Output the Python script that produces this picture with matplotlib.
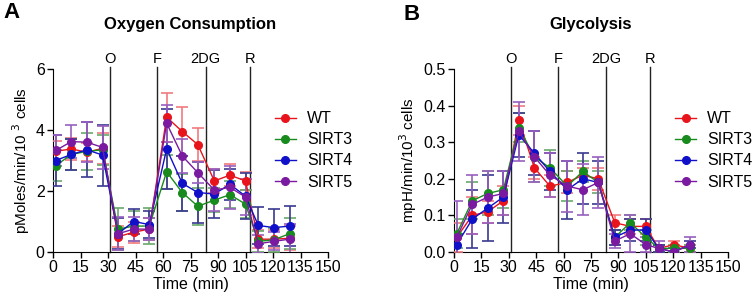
import numpy as np
import matplotlib
matplotlib.use("Agg")
from matplotlib import pyplot as plt
from matplotlib.lines import Line2D

plt.rcParams["font.family"] = ["Liberation Sans", "DejaVu Sans"]

time = [1.5, 10, 18.5, 27, 35.5, 44, 52.5, 62, 70.5, 79, 88, 96.5, 105, 112, 120.5, 129]
groups = ["WT", "SIRT3", "SIRT4", "SIRT5"]
colors = ["#e8141c", "#198a1e", "#1010c8", "#7a1aa0"]
err_colors = ["#f07a7e", "#6aa86a", "#3a3a90", "#9a60c0"]

injections = [31.2, 56.8, 83.2, 107.3]
injection_labels = ["O", "F", "2DG", "R"]

# oxygen consumption (pMoles/min/10^3 cells)
ocr_wt = [3.3, 3.38, 3.27, 3.4, 0.5, 0.65, 0.75, 4.42, 3.95, 3.52, 2.33, 2.52, 2.33, 0.42, 0.42, 0.45]
ocr_sirt3 = [2.83, 3.2, 3.3, 3.35, 0.75, 0.85, 0.85, 2.63, 1.95, 1.5, 1.7, 1.88, 1.57, 0.35, 0.4, 0.6]
ocr_sirt4 = [3.0, 3.2, 3.35, 3.18, 0.6, 1.0, 0.9, 3.38, 2.25, 1.95, 1.9, 2.22, 1.83, 0.87, 0.8, 0.85]
ocr_sirt5 = [3.33, 3.62, 3.6, 3.43, 0.6, 0.75, 0.75, 4.22, 3.15, 2.6, 2.03, 2.12, 1.8, 0.27, 0.35, 0.42]
ocr_err_wt = [0.35, 0.35, 0.3, 0.5, 0.35, 0.35, 0.35, 0.8, 0.8, 0.55, 0.4, 0.35, 0.3, 0.3, 0.3, 0.4]
ocr_err_sirt3 = [0.5, 0.5, 0.6, 0.5, 0.7, 0.5, 0.6, 0.55, 0.6, 0.6, 0.4, 0.45, 0.45, 0.35, 0.4, 0.5]
ocr_err_sirt4 = [0.85, 0.5, 0.9, 1.0, 0.5, 0.4, 0.45, 1.3, 0.9, 1.0, 0.8, 0.5, 0.75, 0.6, 0.6, 0.65]
ocr_err_sirt5 = [0.5, 0.55, 0.65, 0.7, 0.55, 0.4, 0.35, 0.6, 0.55, 0.35, 0.7, 0.7, 0.6, 0.3, 0.3, 0.5]

# glycolysis (mpH/min/10^3 cells)
ecar_wt = [0.04, 0.10, 0.11, 0.14, 0.36, 0.23, 0.18, 0.19, 0.21, 0.20, 0.08, 0.07, 0.07, 0.01, 0.02, 0.01]
ecar_sirt3 = [0.05, 0.14, 0.16, 0.17, 0.34, 0.26, 0.23, 0.18, 0.22, 0.19, 0.04, 0.08, 0.04, 0.01, 0.01, 0.01]
ecar_sirt4 = [0.02, 0.09, 0.12, 0.15, 0.32, 0.27, 0.22, 0.17, 0.20, 0.19, 0.04, 0.06, 0.06, 0.01, 0.0, 0.02]
ecar_sirt5 = [0.04, 0.13, 0.15, 0.16, 0.33, 0.26, 0.21, 0.18, 0.17, 0.19, 0.03, 0.05, 0.02, 0.01, 0.0, 0.02]
ecar_err_wt = [0.04, 0.05, 0.03, 0.04, 0.04, 0.03, 0.03, 0.03, 0.02, 0.03, 0.02, 0.02, 0.02, 0.01, 0.01, 0.01]
ecar_err_sirt3 = [0.04, 0.05, 0.06, 0.05, 0.04, 0.07, 0.05, 0.04, 0.03, 0.03, 0.02, 0.02, 0.02, 0.01, 0.01, 0.01]
ecar_err_sirt4 = [0.03, 0.08, 0.09, 0.07, 0.06, 0.06, 0.05, 0.08, 0.07, 0.06, 0.02, 0.03, 0.03, 0.01, 0.01, 0.01]
ecar_err_sirt5 = [0.10, 0.08, 0.07, 0.06, 0.08, 0.07, 0.06, 0.07, 0.07, 0.07, 0.02, 0.05, 0.02, 0.02, 0.01, 0.02]


def draw_panel(ax, series, errs, ymax, yticks, ylabel, title):
    for name, y, e, c, ec in zip(groups, series, errs, colors, err_colors):
        ax.errorbar(time, y, yerr=e, color=c, ecolor=ec, elinewidth=1.2,
                    capsize=4, capthick=1.2, marker="o", markersize=5.5,
                    linewidth=1, zorder=3)
    for t, lab in zip(injections, injection_labels):
        ax.plot([t, t], [0, ymax * 1.01], color="#222222", linewidth=1,
                clip_on=False, zorder=2)
        ax.text(t, ymax * 1.015, lab, ha="center", va="bottom", fontsize=10.5)
    ax.set_xlim(0, 150)
    ax.set_ylim(0, ymax)
    ax.set_xticks(np.arange(0, 151, 15))
    ax.set_yticks(yticks)
    ax.spines["top"].set_visible(False)
    ax.spines["right"].set_visible(False)
    ax.tick_params(labelsize=11.5, length=4, width=1, pad=2)
    ax.set_xlabel("Time (min)", fontsize=11.5, labelpad=1)
    ax.set_ylabel(ylabel, fontsize=11, labelpad=3)
    handles = [Line2D([], [], color=c, marker="o", markersize=5.5, linewidth=1)
               for c in colors]
    ax.legend(handles, groups, loc="center left", bbox_to_anchor=(0.755, 0.555),
              frameon=False, fontsize=11.5, handlelength=1.3, handletextpad=0.7,
              labelspacing=0.38)
    ax.set_title(title, fontsize=12, fontweight="bold", pad=29)


fig = plt.figure(figsize=(7.52, 3.01), dpi=100)
ax1 = fig.add_axes([53 / 752, 49 / 301, 275 / 752, 183 / 301])
ax2 = fig.add_axes([454 / 752, 49 / 301, 274 / 752, 183 / 301])

draw_panel(ax1, [ocr_wt, ocr_sirt3, ocr_sirt4, ocr_sirt5],
           [ocr_err_wt, ocr_err_sirt3, ocr_err_sirt4, ocr_err_sirt5],
           6, [0, 2, 4, 6], "pMoles/min/10 $^{3}$ cells", "Oxygen Consumption")
draw_panel(ax2, [ecar_wt, ecar_sirt3, ecar_sirt4, ecar_sirt5],
           [ecar_err_wt, ecar_err_sirt3, ecar_err_sirt4, ecar_err_sirt5],
           0.5, [0.0, 0.1, 0.2, 0.3, 0.4, 0.5], "mpH/min/10$^{3}$ cells", "Glycolysis")
ax2.set_yticklabels(["0.0", "0.1", "0.2", "0.3", "0.4", "0.5"])

fig.text(3 / 752, 1 - 2 / 301, "A", fontsize=16, fontweight="bold", va="top")
fig.text(403 / 752, 1 - 4 / 301, "B", fontsize=16, fontweight="bold", va="top")

fig.savefig("out.png", dpi=100)
